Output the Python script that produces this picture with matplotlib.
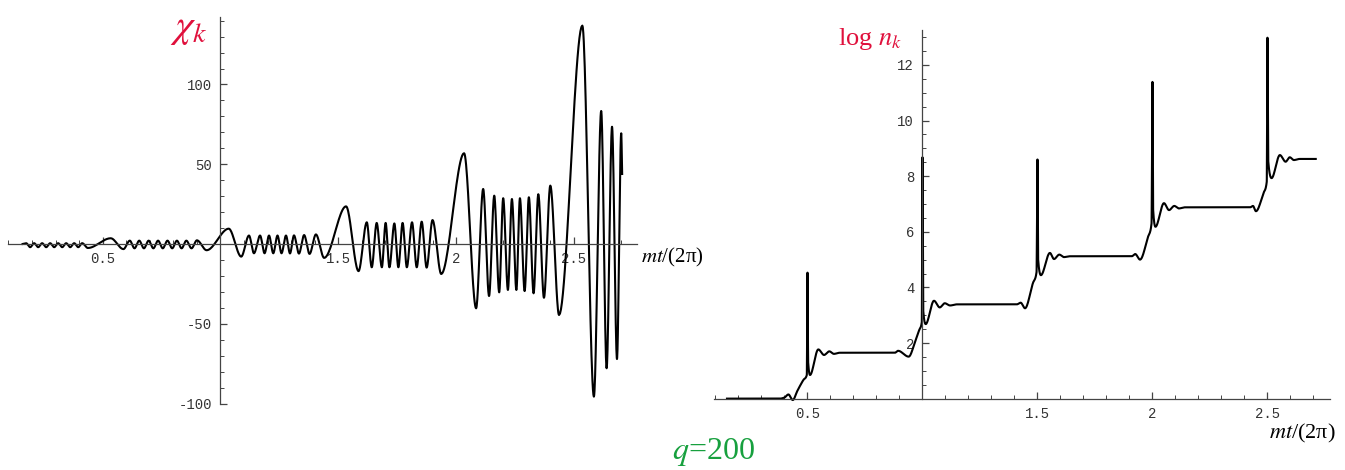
import numpy as np
import matplotlib.pyplot as plt
from matplotlib.ticker import FixedLocator

plt.rcParams['mathtext.fontset'] = 'stix'

# ---- left panel: chi_k, extrema ----
chi_t = [0.160, 0.175, 0.192, 0.209, 0.226, 0.243, 0.260, 0.277, 0.294, 0.311,
         0.328, 0.345, 0.362, 0.379, 0.396, 0.413, 0.437,
         0.534, 0.588,
         0.615, 0.635, 0.655, 0.675, 0.695, 0.715, 0.735, 0.755, 0.775, 0.795,
         0.815, 0.835, 0.855, 0.877, 0.900, 0.941,
         1.035, 1.088,
         1.121, 1.142, 1.168, 1.187, 1.206, 1.224, 1.242, 1.259, 1.278, 1.295,
         1.312, 1.333, 1.355, 1.378, 1.405, 1.440,
         1.533, 1.586,
         1.621, 1.642, 1.663, 1.685, 1.701, 1.717, 1.738, 1.755, 1.773, 1.791,
         1.813, 1.833, 1.854, 1.875, 1.900, 1.937,
         2.034, 2.085,
         2.115, 2.140, 2.162, 2.183, 2.200, 2.220, 2.237, 2.256, 2.271, 2.291,
         2.309, 2.329, 2.349, 2.373, 2.400, 2.437,
         2.536, 2.585, 2.616, 2.639, 2.662, 2.683, 2.701, 2.705]
chi_v = [0.0, 0.5, -2.0, 0.5, -2.0, 0.5, -2.0, 0.5, -2.0, 0.5,
         -2.0, 0.5, -2.0, 0.5, -2.0, 0.5, -2.5,
         3.6, -3.2,
         2.1, -2.7, 2.1, -2.7, 2.1, -2.7, 2.1, -2.7, 2.1, -2.7,
         2.1, -2.7, 2.1, -2.7, 2.3, -3.9,
         9.6, -7.9,
         5.3, -5.8, 5.3, -5.8, 5.3, -5.8, 5.3, -5.8, 5.3, -5.9,
         5.4, -6.0, 5.6, -6.2, 6.0, -8.7,
         23.6, -17.0,
         13.6, -14.6, 13.2, -14.6, 13.2, -14.6, 12.9, -14.6, 13.2, -14.6,
         13.6, -14.6, 14.0, -14.8, 15.0, -18.8,
         56.9, -40.3,
         34.5, -32.6, 30.3, -30.3, 28.7, -28.8, 28.2, -28.8, 28.7, -29.5,
         29.3, -30.9, 31.2, -33.7, 36.6, -44.5,
         136.9, -95.7, 83.4, -77.9, 73.5, -72.1, 69.4, 43.9]

# ---- right panel: log n_k, key points ----
logn_t = [0.150, 0.380, 0.400, 0.417, 0.436, 0.456, 0.482, 0.497, 0.500, 0.503,
          0.511, 0.547, 0.572, 0.595, 0.615, 0.640, 0.880, 0.894, 0.940, 0.970,
          0.985, 0.997, 1.000, 1.003, 1.014, 1.050, 1.075, 1.097, 1.120, 1.150,
          1.410, 1.427, 1.446, 1.480, 1.496, 1.500, 1.503, 1.515, 1.554, 1.572,
          1.595, 1.615, 1.640, 1.910, 1.925, 1.946, 1.980, 1.996, 2.000, 2.003,
          2.013, 2.050, 2.072, 2.095, 2.115, 2.140, 2.425, 2.437, 2.450, 2.482,
          2.497, 2.500, 2.503, 2.518, 2.554, 2.579, 2.597, 2.615, 2.640, 2.710]
logn_v = [0.00, 0.00, 0.04, 0.15, -0.05, 0.28, 0.67, 0.85, 4.53, 1.30,
          0.85, 1.77, 1.57, 1.70, 1.61, 1.65, 1.65, 1.72, 1.51, 2.10,
          2.45, 2.75, 8.68, 3.20, 2.68, 3.52, 3.28, 3.43, 3.35, 3.39,
          3.39, 3.45, 3.25, 4.15, 4.55, 8.60, 5.00, 4.44, 5.24, 5.02,
          5.18, 5.09, 5.12, 5.12, 5.20, 5.00, 5.80, 6.30, 11.39, 6.80,
          6.18, 7.03, 6.78, 6.93, 6.84, 6.88, 6.88, 6.93, 6.74, 7.38,
          7.80, 12.98, 8.60, 7.93, 8.76, 8.52, 8.68, 8.58, 8.62, 8.62]

x_major = [0.5, 1.5, 2.0, 2.5]
x_labels = ['0.5', '1.5', '2', '2.5']
chi_ticks = [-100, -50, 50, 100]
chi_labels = ['-100', '-50', '50', '100']
logn_ticks = [2, 4, 6, 8, 10, 12]
logn_labels = ['2', '4', '6', '8', '10', '12']

red = '#e0103c'
green = '#17a03e'
axcol = '#444444'
tickfont = dict(family='Liberation Mono', size=10, color='#333333')


# smooth monotone cubic through the read points (drawing only)
def smooth(xk, yk, n=24):
    xk = np.asarray(xk, float)
    yk = np.asarray(yk, float)
    h = np.diff(xk)
    d = np.diff(yk) / h
    m = np.zeros_like(yk)
    m[0], m[-1] = d[0], d[-1]
    w1 = 2 * h[1:] + h[:-1]
    w2 = h[1:] + 2 * h[:-1]
    same = d[:-1] * d[1:] > 0
    with np.errstate(divide='ignore', invalid='ignore'):
        hm = (w1 + w2) / (w1 / d[:-1] + w2 / d[1:])
    m[1:-1] = np.where(same, hm, 0.0)
    xs, ys = [], []
    s = np.linspace(0, 1, n, endpoint=False)
    for i in range(len(h)):
        h00 = 2 * s**3 - 3 * s**2 + 1
        h10 = s**3 - 2 * s**2 + s
        h01 = -2 * s**3 + 3 * s**2
        h11 = s**3 - s**2
        xs.append(xk[i] + s * h[i])
        ys.append(h00 * yk[i] + h10 * h[i] * m[i] + h01 * yk[i + 1] + h11 * h[i] * m[i + 1])
    xs.append([xk[-1]])
    ys.append([yk[-1]])
    return np.concatenate(xs), np.concatenate(ys)


def style_axes(ax, yticks, ylabels, yminor, ybounds):
    for s in ['top', 'right']:
        ax.spines[s].set_visible(False)
    ax.spines['left'].set_position(('data', 1.0))
    ax.spines['bottom'].set_position(('data', 0.0))
    ax.spines['left'].set_bounds(*ybounds)
    for s in ['left', 'bottom']:
        ax.spines[s].set_color(axcol)
        ax.spines[s].set_linewidth(0.9)
    ax.xaxis.set_major_locator(FixedLocator(x_major))
    ax.set_xticklabels(x_labels, fontdict=tickfont)
    ax.xaxis.set_minor_locator(FixedLocator(
        [v / 10 for v in range(1, 28) if v % 5 != 0]))
    ax.yaxis.set_major_locator(FixedLocator(yticks))
    ax.set_yticklabels(ylabels, fontdict=tickfont)
    ax.yaxis.set_minor_locator(FixedLocator(yminor))
    ax.tick_params(which='major', direction='in', length=5, width=0.9, color=axcol, pad=6)
    ax.tick_params(which='minor', direction='in', length=3, width=0.7, color=axcol)
    ax.patch.set_visible(False)


W, H = 1345, 470
fig = plt.figure(figsize=(W / 100, H / 100), dpi=100)

# left panel (pixel box 8..637 x 17..404)
ax1 = fig.add_axes([8 / W, 1 - 404 / H, (637 - 8) / W, (404 - 17) / H])
tx, vx = smooth(chi_t, chi_v)
ax1.plot(tx, vx, color='black', lw=1.5)
ax1.set_xlim(0.098, 2.768)
ax1.set_ylim(-100.3, 142.3)
style_axes(ax1, chi_ticks, chi_labels,
           [v for v in range(-90, 141, 10) if v % 50 != 0], (-100.3, 142.3))

# right panel (pixel box 714..1330 x 30..403)
ax2 = fig.add_axes([714 / W, 1 - 402.8 / H, (1330 - 714) / W, (402.8 - 30.2) / H])
tr, vr = smooth(logn_t, logn_v)
ax2.plot(tr, vr, color='black', lw=1.5)
ax2.set_xlim(0.0935, 2.772)
ax2.set_ylim(-0.15, 13.25)
style_axes(ax2, logn_ticks, logn_labels,
           [v / 2 for v in range(1, 27) if v % 4 != 0], (0, 13.25))

# labels
fig.text(170 / W, 1 - 27 / H, r'$\chi_k$', color=red, fontsize=29, ha='left', va='center')
fig.text(838 / W, 1 - 39 / H, r'log $n_k$', color=red, fontsize=19,
         family='Liberation Serif', ha='left', va='center')
fig.text(641 / W, 1 - 257 / H, r'$mt$/(2π)', fontsize=15, family='Liberation Serif',
         ha='left', va='center')
fig.text(1336 / W, 1 - 433 / H, r'$mt$/(2π)', fontsize=16, family='Liberation Serif',
         ha='right', va='center')
fig.text(713 / W, 1 - 452 / H, r'$q$=200', color=green, fontsize=23,
         family='Liberation Serif', ha='center', va='center')

fig.savefig('out.png', dpi=100)
